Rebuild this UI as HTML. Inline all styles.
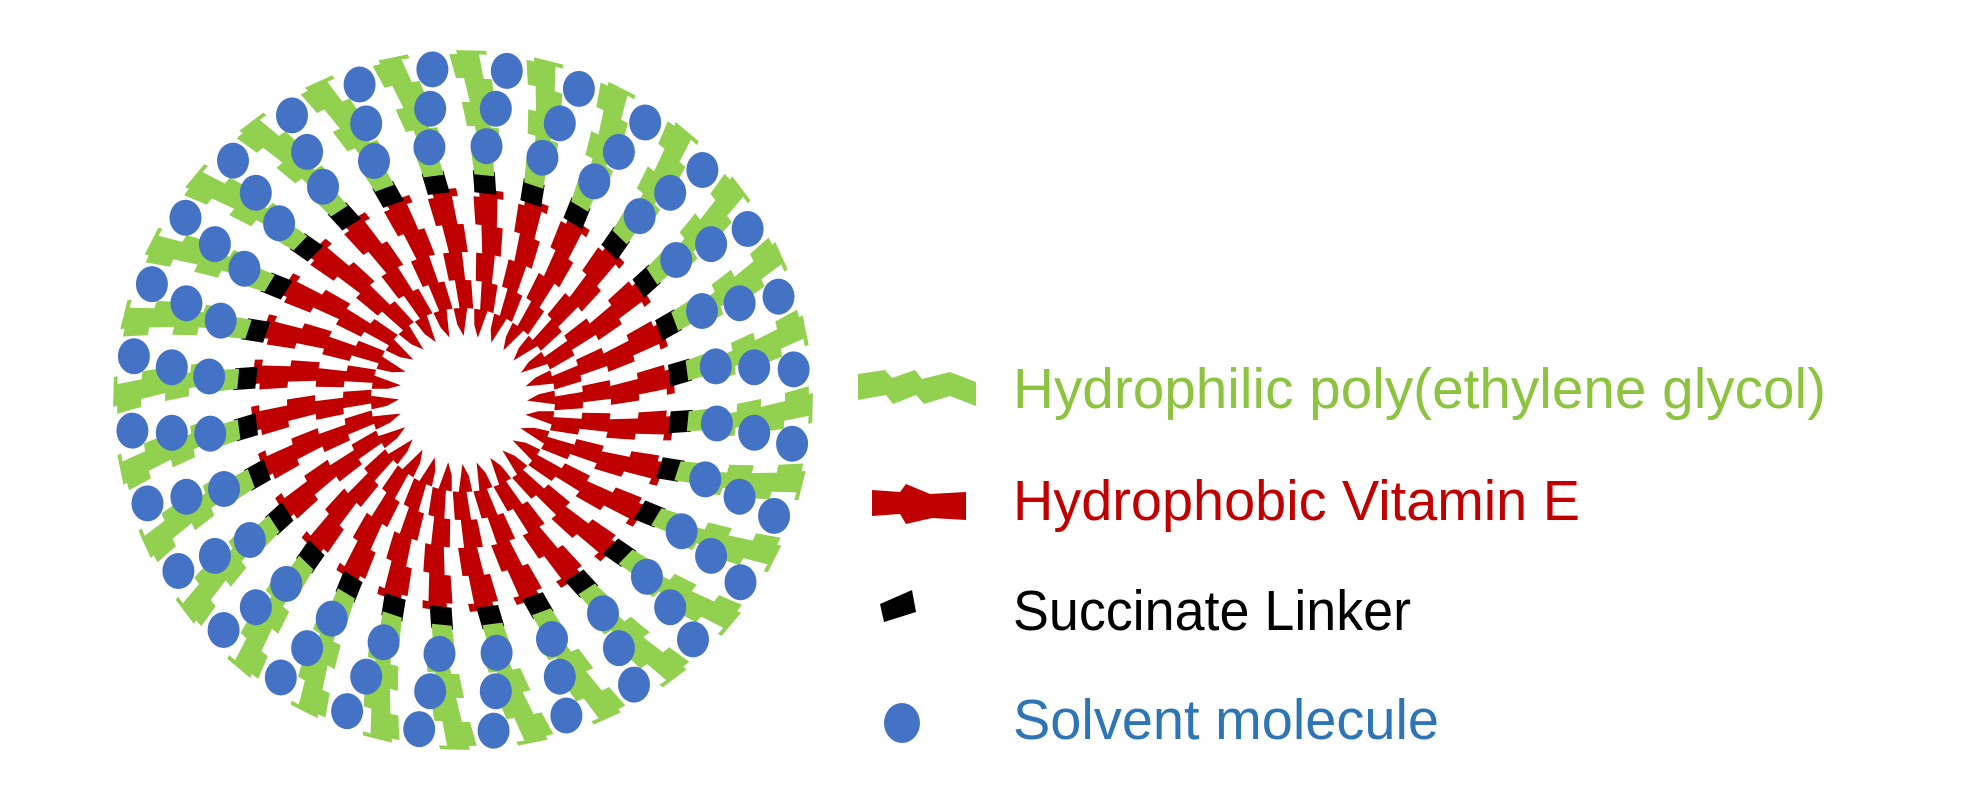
<!DOCTYPE html>
<html><head><meta charset="utf-8"><style>
html,body{margin:0;padding:0;background:#fff;width:1988px;height:794px;overflow:hidden}
svg{display:block}
text{font-family:"Liberation Sans",sans-serif;font-size:57px}
</style></head><body>
<svg id="s" width="1988" height="794" viewBox="0 0 1988 794" xmlns="http://www.w3.org/2000/svg">
<g id="m"></g>
<polygon points="858,374 885,370 892,378 915,370 922,379 950,372 976,382 976,406 950,396 924,404 916,395 893,404 886,395 858,400" fill="#92D050"/>
<polygon points="872,490 900,492 906,484 930,494 966,492 966,520 932,518 906,524 900,514 872,516" fill="#C00000"/>
<polygon points="880,604 912,590 916,612 884,622" fill="#000"/>
<ellipse cx="902" cy="723" rx="18" ry="20" fill="#4472C4"/>
<text x="1013" y="408" fill="#8CC43F" textLength="813" lengthAdjust="spacingAndGlyphs">Hydrophilic poly(ethylene glycol)</text>
<text x="1013" y="520" fill="#C00000" textLength="567" lengthAdjust="spacingAndGlyphs">Hydrophobic Vitamin E</text>
<text x="1013" y="630" fill="#000" textLength="398" lengthAdjust="spacingAndGlyphs">Succinate Linker</text>
<text x="1013" y="739" fill="#2E75B6" textLength="426" lengthAdjust="spacingAndGlyphs">Solvent molecule</text>
</svg>
<script>
(function(){
var cx=463,cy=400,N=28,g=document.getElementById('m'),out='';
function P(base,r,y){var th=base+y/r+0.22*(1-(r-60)/290);return (cx+r*Math.cos(th)).toFixed(1)+','+(cy+r*Math.sin(th)).toFixed(1);}
function band(base,r0,r1,w0,w1,color,seg,amp,tip){
  var top=[],bot=[],k=0;
  for(var r=r0;r<r1;r+=seg){var re=Math.min(r+seg,r1);var o=(k%2)?amp:0;
    var wa=w0+(w1-w0)*(r-r0)/(r1-r0),wb=w0+(w1-w0)*(re-r0)/(r1-r0);
    top.push([r,-wa/2+o]);top.push([re,-wb/2+o]);bot.push([r,wa/2+o]);bot.push([re,wb/2+o]);k++;}
  if(tip){top[0]=[r0+12,-w0/2+1];bot[0]=[r0,w0*0.1];}
  var pts=top.map(function(p){return P(base,p[0],p[1]);}).concat(bot.reverse().map(function(p){return P(base,p[0],p[1]);}));
  out+='<polygon points="'+pts.join(' ')+'" fill="'+color+'"/>';
}
for(var i=0;i<N;i++){
  var b=i*2*Math.PI/N;
  band(b,64,212,11,25,'#C00000',28,6,true);
  band(b,208,230,22,22,'#000',22,0,false);
  band(b,226,350,20,30,'#92D050',24,8,false);
  var bb=b+Math.PI/N;
  [255,293,332].forEach(function(r,j){
    var th=bb+(j-1)*0.02;
    out+='<ellipse cx="'+(cx+r*Math.cos(th)).toFixed(1)+'" cy="'+(cy+r*Math.sin(th)).toFixed(1)+'" rx="16" ry="18" fill="#4472C4"/>';
  });
}
g.innerHTML=out;
})();
</script>
</body></html>
